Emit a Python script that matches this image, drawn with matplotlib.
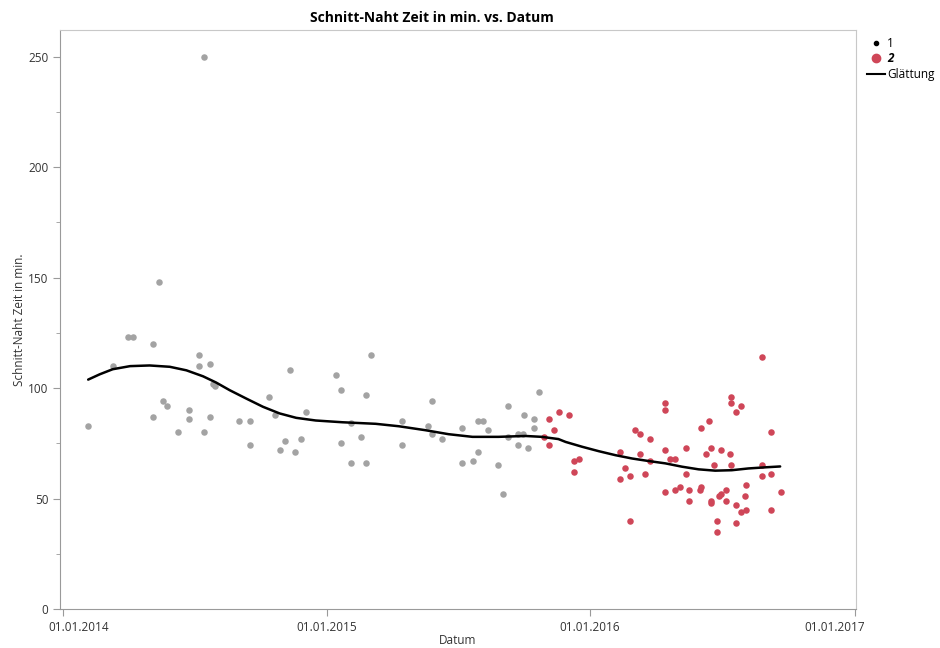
import numpy as np
import pandas as pd
import matplotlib
matplotlib.use("Agg")
import matplotlib.pyplot as plt
import matplotlib.dates as mdates
import matplotlib.transforms as mtransforms
from matplotlib.lines import Line2D

plt.rcParams['font.family'] = ['Open Sans', 'DejaVu Sans']

# Gruppe 1 (grau): Tage seit 01.01.2014, Zeit in min.
tage_1 = [35, 70, 90, 97, 125, 133, 125, 139, 144, 160, 174, 174, 189, 189, 196, 196,
          203, 203, 208, 210, 244, 259, 259, 286, 294, 301, 308, 314, 322, 329, 336,
          378, 385, 385, 399, 399, 413, 420, 420, 427, 469, 469, 505, 511, 511, 525,
          553, 553, 568, 574, 574, 581, 589, 603, 609, 616, 616, 630, 637, 630, 638,
          644, 652, 652, 659]
zeit_1 = [83, 110, 123, 123, 120, 148, 87, 94, 92, 80, 90, 86, 115, 110, 80, 250,
          111, 87, 102, 101, 85, 85, 74, 96, 88, 72, 76, 108, 71, 77, 89,
          106, 99, 75, 84, 66, 78, 66, 97, 115, 85, 74, 83, 94, 79, 77,
          82, 66, 67, 71, 85, 85, 81, 65, 52, 92, 78, 79, 79, 74, 88,
          73, 86, 82, 98]

# Gruppe 2 (rot)
tage_2 = [666, 673, 673, 680, 687, 701, 708, 708, 714, 771, 778, 771, 785, 785, 792,
          799, 799, 806, 813, 813, 834, 834, 834, 834, 841, 848, 848, 854, 862, 862,
          867, 867, 882, 884, 883, 895, 890, 897, 902, 897, 897, 905, 905, 909, 911,
          911, 918, 918, 923, 925, 925, 925, 932, 939, 932, 932, 946, 945, 946, 939,
          968, 968, 968, 981, 981, 980, 994]
zeit_2 = [78, 86, 74, 81, 89, 88, 67, 62, 68, 71, 64, 59, 60, 40, 81,
          79, 70, 61, 77, 67, 93, 90, 72, 53, 68, 68, 54, 55, 73, 61,
          54, 49, 54, 55, 82, 85, 70, 73, 65, 49, 48, 40, 35, 51, 52,
          72, 54, 49, 70, 65, 96, 93, 89, 92, 47, 39, 56, 51, 45, 44,
          114, 65, 60, 80, 61, 45, 53]

# Glättungskurve
tage_gl = [35, 51, 69, 93, 120, 148, 171, 194, 212, 231, 254, 277, 300, 323, 350,
           387, 433, 465, 502, 534, 567, 603, 640, 663, 686, 696, 719, 742, 765, 788,
           810, 834, 857, 880, 903, 926, 949, 972, 993]
zeit_gl = [103.8, 106.2, 108.5, 109.9, 110.2, 109.6, 108, 105.3, 102.5, 99, 95.2, 91.5,
           88.5, 86.5, 85.3, 84.5, 83.8, 82.7, 80.9, 79.1, 77.9, 77.9, 78.3, 77.9, 76.9,
           75.6, 73.4, 71.4, 69.6, 68.1, 67, 65.9, 64.4, 63.2, 62.6, 62.8, 63.6, 64.1, 64.5]

start = pd.Timestamp("2014-01-01")
def to_dates(t):
    return start + pd.to_timedelta(np.array(t, dtype=float), unit="D")

grau = '#a3a3a3'
rot = '#cf4658'
achse = '#9a9a9a'

fig = plt.figure(figsize=(9.4, 6.48), dpi=100)
ax = fig.add_axes([60/940, 1-609/648, (856-60)/940, (609-30)/648])

ax.scatter(to_dates(tage_1), zeit_1, s=22, color=grau, linewidths=0, zorder=2)
ax.scatter(to_dates(tage_2), zeit_2, s=22, color=rot, linewidths=0, zorder=2)
ax.plot(to_dates(tage_gl), zeit_gl, color='black', lw=1.8, zorder=3,
        solid_joinstyle='round', solid_capstyle='round')

ax.set_xlim(start - pd.Timedelta(days=4), pd.Timestamp("2017-01-03"))
ax.set_ylim(0, 262)
ax.set_yticks([0, 50, 100, 150, 200, 250])
ax.set_yticks(np.arange(25, 262, 50), minor=True)
jahre = pd.to_datetime(["2014-01-01", "2015-01-01", "2016-01-01", "2017-01-01"])
ax.set_xticks(jahre)
ax.xaxis.set_major_formatter(mdates.DateFormatter("%d.%m.%Y"))

for s in ax.spines.values():
    s.set_color('#c8c8c8')
ax.spines['left'].set_color(achse)
ax.spines['bottom'].set_color(achse)
ax.tick_params(axis='both', which='major', length=5, color=achse, labelsize=8.5,
               labelcolor='#333333', direction='out')
ax.tick_params(axis='y', which='minor', length=3, color=achse, direction='out')

# erste/letzte Beschriftung an den Rand schieben wie im Original
lbls = ax.get_xticklabels()
lbls[0].set_transform(lbls[0].get_transform() + mtransforms.ScaledTranslation(-0.15, 0, fig.dpi_scale_trans))
lbls[0].set_horizontalalignment('left')
lbls[-1].set_transform(lbls[-1].get_transform() + mtransforms.ScaledTranslation(0.1, 0, fig.dpi_scale_trans))
lbls[-1].set_horizontalalignment('right')

ax.set_xlabel("Datum", fontsize=8.5, color='#333333')
ax.xaxis.set_label_coords(0.5, -(641-609)/579, transform=ax.transAxes)
ax.xaxis.label.set_va('center')
ax.set_ylabel("Schnitt-Naht Zeit in min.", fontsize=8.5, color='#333333')
ax.yaxis.set_label_coords(-(60-20)/796, 0.5)
ax.yaxis.label.set_va('center')
fig.text(432/940, 1-18/648, "Schnitt-Naht Zeit in min. vs. Datum", ha='center', va='center',
         fontsize=10, fontweight='bold')

handles = [Line2D([], [], marker='o', ls='', color='black', ms=3),
           Line2D([], [], marker='o', ls='', color=rot, ms=6),
           Line2D([], [], color='black', lw=1.5)]
leg = fig.legend(handles, ['1', '2', 'Glättung'], loc='upper left',
                 bbox_to_anchor=(860/940, 1-30/648), frameon=False, fontsize=8.5,
                 handlelength=1.5, handletextpad=0.2, labelspacing=0.2, borderpad=0.1)
leg.get_texts()[1].set_fontweight('bold')
leg.get_texts()[1].set_fontstyle('italic')

fig.savefig("out.png", dpi=100)
